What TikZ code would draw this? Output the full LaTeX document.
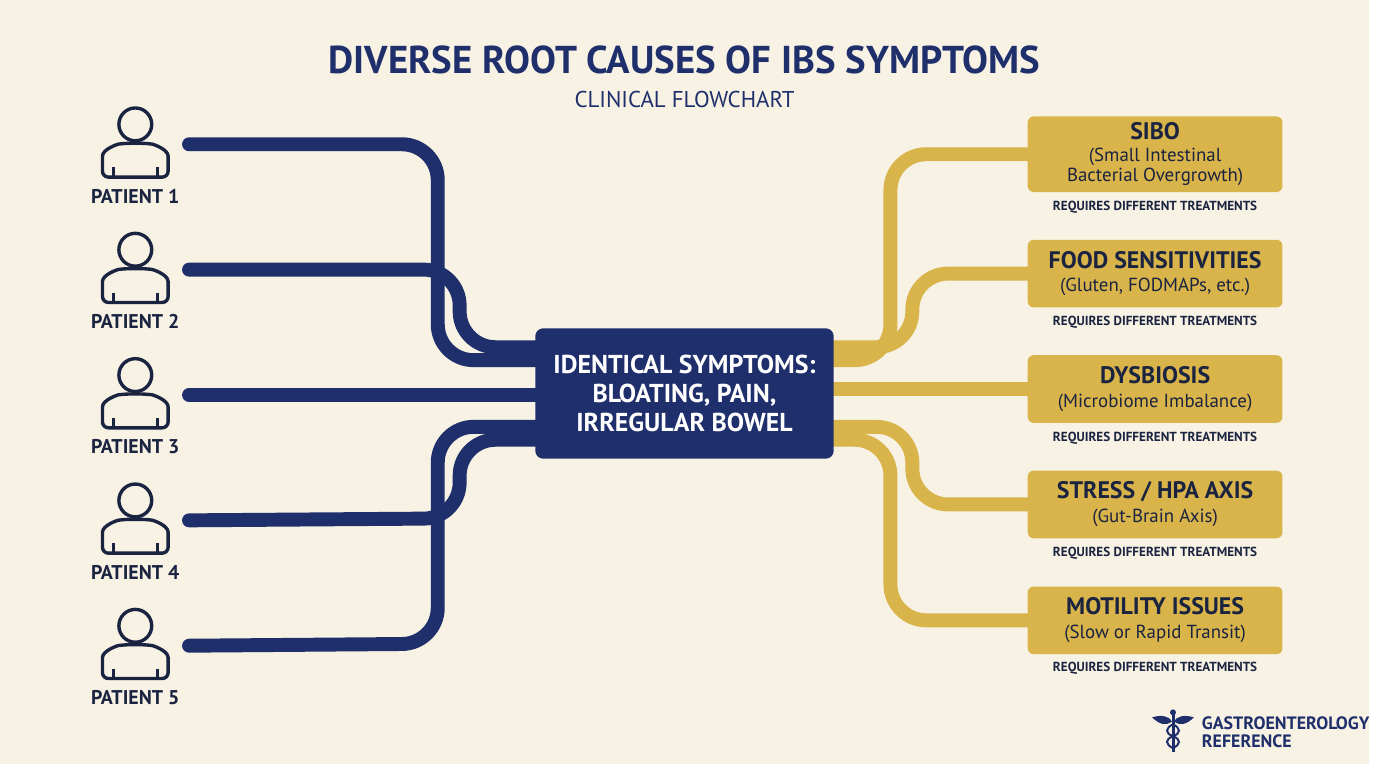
\documentclass[tikz,border=0pt]{standalone}
\usepackage{fontspec}
\setmainfont{PT Sans}
\usetikzlibrary{backgrounds}
\definecolor{bg}{HTML}{F7F2E4}
\definecolor{navy}{HTML}{1F2F6B}
\definecolor{gold}{HTML}{D8B44A}
\definecolor{ink}{HTML}{1A2340}
\begin{document}
\begin{tikzpicture}[x=0.5pt,y=-0.5pt,
  nline/.style={draw=navy,line width=7pt,line cap=round,rounded corners=18pt},
  gline/.style={draw=gold,line width=7pt,line cap=round,rounded corners=18pt},
  plabel/.style={font=\bfseries\fontsize{10}{12}\selectfont,text=ink},
  gbox/.style={fill=gold,rounded corners=3pt,minimum width=128pt,inner sep=0pt,align=center,text=ink},
  req/.style={font=\bfseries\fontsize{6.6}{8}\selectfont,text=ink},
  icon/.style={draw=ink,line width=1.7pt}]
% center
\node[fill=navy,rounded corners=4pt,minimum width=150pt,minimum height=65.5pt,align=center,text=white,font=\bfseries\fontsize{13}{14.5}\selectfont] (c) at (688,395.5) {IDENTICAL SYMPTOMS:\\BLOATING, PAIN,\\IRREGULAR BOWEL};
\node[font=\bfseries\fontsize{19.5}{22}\selectfont,text=navy] (title) at (688,60) {DIVERSE ROOT CAUSES OF IBS SYMPTOMS};
\node[font=\fontsize{11.5}{13}\selectfont,text=navy] (sub) at (688,100) {CLINICAL FLOWCHART};
% patients
\foreach \i in {1,...,5}{
  \pgfmathsetmacro\yy{125+126*(\i-1)}
  \draw[icon] (136,\yy) circle (16.5);
  \draw[icon,rounded corners=3pt] (103,\yy+53) -- (103,\yy+38) .. controls (103,\yy+25) and (118,\yy+20) .. (125,\yy+19) -- (147,\yy+19) .. controls (154,\yy+20) and (169,\yy+25) .. (169,\yy+38) -- (169,\yy+53) -- cycle;
  \draw[icon] (114,\yy+43) -- (114,\yy+53) (158,\yy+43) -- (158,\yy+53);
  \node[plabel] (pl\i) at (136,\yy+72) {PATIENT \i};
  \coordinate (p\i) at (190,\yy+20);
}
% right boxes
\node[gbox,minimum height=38pt] (b1) at (1161,155) {{\bfseries\fontsize{12}{14}\selectfont SIBO}\\[-1pt]{\fontsize{9.5}{11}\selectfont (Small Intestinal}\\[-2pt]{\fontsize{9.5}{11}\selectfont Bacterial Overgrowth)}};
\node[gbox,minimum height=34pt] (b2) at (1161,275) {{\bfseries\fontsize{12}{14}\selectfont FOOD SENSITIVITIES}\\{\fontsize{9.5}{11}\selectfont (Gluten, FODMAPs, etc.)}};
\node[gbox,minimum height=34pt] (b3) at (1161,391) {{\bfseries\fontsize{12}{14}\selectfont DYSBIOSIS}\\{\fontsize{9.5}{11}\selectfont (Microbiome Imbalance)}};
\node[gbox,minimum height=34pt] (b4) at (1161,507) {{\bfseries\fontsize{12}{14}\selectfont STRESS / HPA AXIS}\\{\fontsize{9.5}{11}\selectfont (Gut-Brain Axis)}};
\node[gbox,minimum height=34pt] (b5) at (1161,623.5) {{\bfseries\fontsize{12}{14}\selectfont MOTILITY ISSUES}\\{\fontsize{9.5}{11}\selectfont (Slow or Rapid Transit)}};
\node[req] (r1) at (1161,208) {REQUIRES DIFFERENT TREATMENTS};
\node[req] (r2) at (1161,324) {REQUIRES DIFFERENT TREATMENTS};
\node[req] (r3) at (1161,440) {REQUIRES DIFFERENT TREATMENTS};
\node[req] (r4) at (1161,556) {REQUIRES DIFFERENT TREATMENTS};
\node[req] (r5) at (1161,672) {REQUIRES DIFFERENT TREATMENTS};
\begin{scope}[on background layer]
\fill[bg] (0,0) rectangle (1376,768);
\draw[nline] (p1) -- (440,145) -- (440,362) -- (c.west |- {(0,362)});
\draw[nline] (p2) -- (462,271) -- (462,349) -- (c.west |- {(0,349)});
\draw[nline] (p3) -- (c.west |- p3);
\draw[nline] (p4) -- (462,521) -- (462,442) -- (c.west |- {(0,442)});
\draw[nline] (p5) -- (440,647) -- (440,429) -- (c.west |- {(0,429)});
\draw[gline] (c.east |- {(0,362)}) -- (895,362) -- (895,155) -- (b1.west);
\draw[gline] (c.east |- {(0,349)}) -- (917,349) -- (917,275) -- (b2.west);
\draw[gline] (c.east |- b3) -- (b3.west);
\draw[gline] (c.east |- {(0,429)}) -- (917,429) -- (917,507) -- (b4.west);
\draw[gline] (c.east |- {(0,442)}) -- (895,442) -- (895,623.5) -- (b5.west);
\end{scope}
% logo
\fill[navy] (1179,716) circle (3);
\draw[navy,line width=1.5pt] (1179,718) -- (1179,756);
\fill[navy] (1158,721) .. controls (1168,718) and (1175,720) .. (1178,725) .. controls (1172,730) and (1165,728) .. (1158,721) -- cycle;
\fill[navy] (1200,721) .. controls (1190,718) and (1183,720) .. (1180,725) .. controls (1186,730) and (1193,728) .. (1200,721) -- cycle;
\draw[navy,line width=1pt] (1179,728) .. controls (1171,732) and (1171,737) .. (1179,740) .. controls (1187,743) and (1187,748) .. (1179,752);
\draw[navy,line width=1pt] (1179,728) .. controls (1187,732) and (1187,737) .. (1179,740) .. controls (1171,743) and (1171,748) .. (1179,752);
\node[anchor=west,align=left,font=\bfseries\fontsize{9}{9.5}\selectfont,text=navy] (logo) at (1201,736) {GASTROENTEROLOGY\\REFERENCE};
\end{tikzpicture}
\end{document}
